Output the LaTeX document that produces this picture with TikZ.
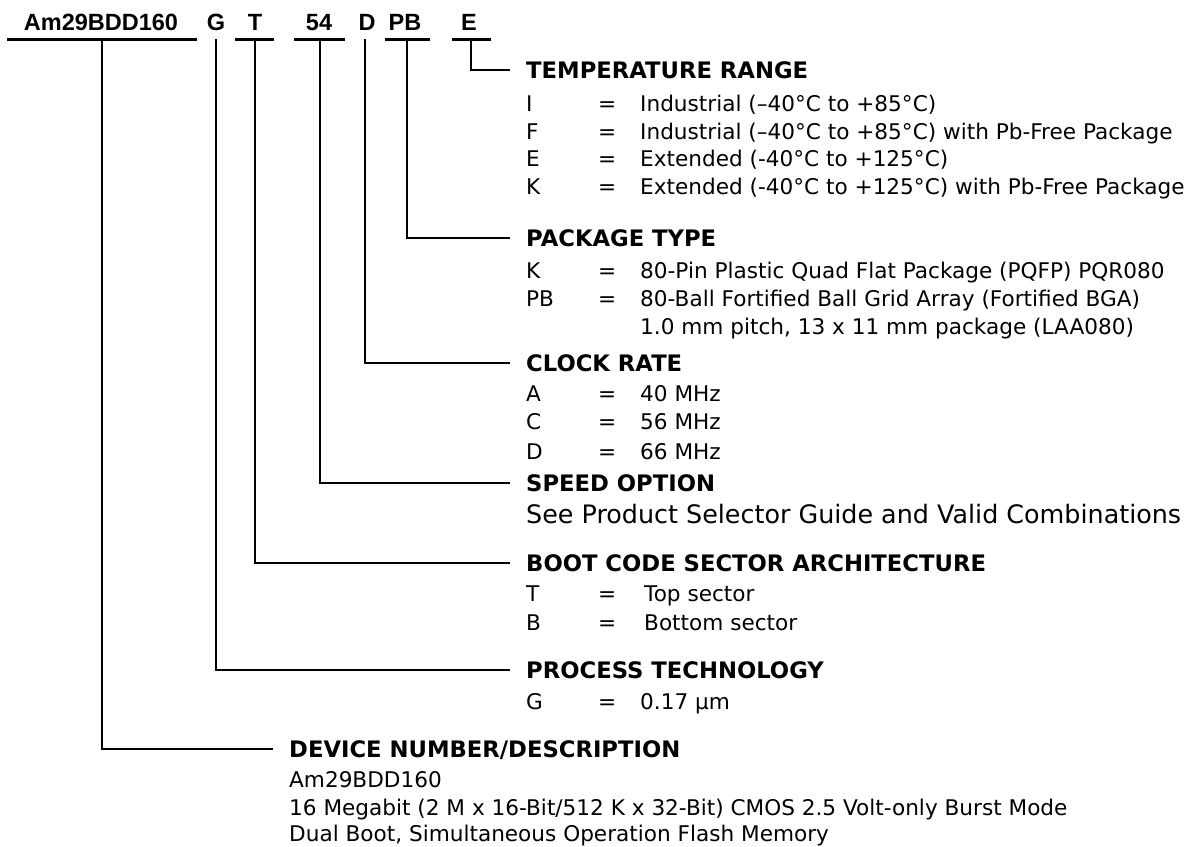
\documentclass[tikz,border=0pt]{standalone}
\usepackage{fontspec}
\setmainfont{DejaVu Sans}
\newfontfamily\partfont{Liberation Sans}
\tikzset{
  part/.style={font=\partfont\bfseries\fontsize{23.5}{26}\selectfont, anchor=base, inner sep=0pt},
  head/.style={font=\bfseries\fontsize{22.7}{26}\selectfont, anchor=base west, inner sep=0pt},
  body/.style={font=\fontsize{21.6}{25}\selectfont, anchor=base west, inner sep=0pt},
  bigbody/.style={font=\fontsize{25.4}{29}\selectfont, anchor=base west, inner sep=0pt},
  bar/.style={line width=3pt},
  conn/.style={line width=2pt, line join=miter},
}
\newcommand\optrow[4]{%
  \node[body] (#1k) at (526,#2) {#3};
  \node[body] (#1e) at (598,#2) {=};
  \node[body] (#1v) at (640,#2) {#4};}
\begin{document}
\begin{tikzpicture}[x=1pt,y=-1pt]
\useasboundingbox (0,0) rectangle (1188,846);
% part number
\node[part] (pAm) at (101,30) {Am29BDD160};
\node[part] (pG) at (216,30) {G};
\node[part] (pT) at (255,30) {T};
\node[part] (p54) at (319,30) {54};
\node[part] (pD) at (367,30) {D};
\node[part] (pPB) at (405,30) {PB};
\node[part] (pE) at (469,30) {E};
% underline bars
\draw[bar] (7,39) -- (197,39);
\draw[bar] (235,39) -- (274,39);
\draw[bar] (294,39) -- (345,39);
\draw[bar] (385,39) -- (430,39);
\draw[bar] (452,39) -- (491,39);
% connector tops
\coordinate (cAm) at (102,39);
\coordinate (cG) at (216,39);
\coordinate (cT) at (255,39);
\coordinate (c54) at (320,39);
\coordinate (cD) at (365,39);
\coordinate (cPB) at (407,39);
\coordinate (cE) at (471,39);
% connector ends
\coordinate (eE) at (510,70);
\coordinate (ePB) at (510,238);
\coordinate (eD) at (510,363);
\coordinate (e54) at (510,483);
\coordinate (eT) at (510,563);
\coordinate (eG) at (510,670);
\coordinate (eAm) at (273,749);
\draw[conn] (cE) |- (eE);
\draw[conn] (cPB) |- (ePB);
\draw[conn] (cD) |- (eD);
\draw[conn] (c54) |- (e54);
\draw[conn] (cT) |- (eT);
\draw[conn] (cG) |- (eG);
\draw[conn] (cAm) |- (eAm);
% temperature range
\node[head] (hTemp) at (526,78) {TEMPERATURE RANGE};
\optrow{tI}{111}{I}{Industrial (–40°C to +85°C)}
\optrow{tF}{139}{F}{Industrial (–40°C to +85°C) with Pb-Free Package}
\optrow{tE}{166}{E}{Extended (-40°C to +125°C)}
\optrow{tK}{194}{K}{Extended (-40°C to +125°C) with Pb-Free Package}
% package type
\node[head] (hPkg) at (526,246) {PACKAGE TYPE};
\optrow{kK}{278}{K}{80-Pin Plastic Quad Flat Package (PQFP) PQR080}
\optrow{kPB}{306}{PB}{80-Ball Fortified Ball Grid Array (Fortified BGA)}
\node[body] (kPB2) at (640,334) {1.0 mm pitch, 13 x 11 mm package (LAA080)};
% clock rate
\node[head] (hClk) at (526,371) {CLOCK RATE};
\optrow{cA}{401}{A}{40 MHz}
\optrow{cC}{429}{C}{56 MHz}
\optrow{cDr}{459}{D}{66 MHz}
% speed option
\node[head] (hSpd) at (526,491) {SPEED OPTION};
\node[bigbody] (sTxt) at (526,523) {See Product Selector Guide and Valid Combinations};
% boot code
\node[head] (hBoot) at (526,571) {BOOT CODE SECTOR ARCHITECTURE};
\optrow{bT}{601}{T}{\hspace{4pt}Top sector}
\optrow{bB}{630}{B}{\hspace{4pt}Bottom sector}
% process
\node[head] (hProc) at (526,678) {PROCESS TECHNOLOGY};
\optrow{gG}{709}{G}{0.17 µm}
% device
\node[head] (hDev) at (289,757) {DEVICE NUMBER/DESCRIPTION};
\node[body] (d1) at (289,787) {Am29BDD160};
\node[body] (d2) at (289,815) {16 Megabit (2 M x 16-Bit/512 K x 32-Bit) CMOS 2.5 Volt-only Burst Mode};
\node[body] (d3) at (289,841) {Dual Boot, Simultaneous Operation Flash Memory};
\end{tikzpicture}
\end{document}
